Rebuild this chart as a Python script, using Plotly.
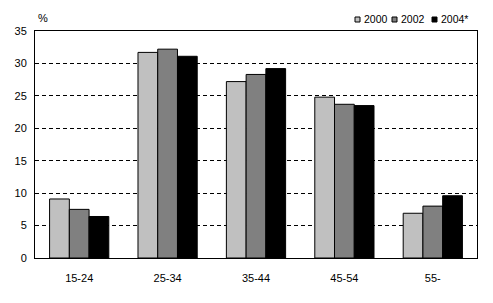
import plotly.graph_objects as go

categories = ["15-24", "25-34", "35-44", "45-54", "55-"]
series_names = ["2000", "2002", "2004*"]
v2000 = [9.1, 31.7, 27.2, 24.8, 6.9]
v2002 = [7.5, 32.2, 28.3, 23.7, 8.0]
v2004 = [6.4, 31.1, 29.2, 23.5, 9.6]
colors = ["#c0c0c0", "#808080", "#000000"]
y_ticks = [0, 5, 10, 15, 20, 25, 30, 35]

W, H = 493, 303
L, R, T, B = 35, 16, 31, 45
PW, PH = W - L - R, H - T - B

def px_x(px):
    return (px - L) / PW

def px_y(py):
    return (H - B - py) / PH

fig = go.Figure()
for name, vals, c in zip(series_names, [v2000, v2002, v2004], colors):
    fig.add_trace(go.Bar(x=categories, y=vals, name=name, showlegend=False,
                         marker=dict(color=c, line=dict(color="black", width=1))))

font = dict(family="Liberation Sans, Arial, sans-serif", size=11, color="black")
lfont = dict(family="Liberation Sans, Arial, sans-serif", size=10.5, color="black")

# manual legend (positions in pixels)
leg_sq_x = [355, 392, 432]
leg_tx_x = [362, 399, 439]
shapes = []
annotations = [dict(text="%", x=px_x(36), xref="paper", xanchor="left", y=px_y(18), yref="paper",
                    yanchor="middle", showarrow=False, font=font)]
for name, c, sx, tx in zip(series_names, colors, leg_sq_x, leg_tx_x):
    shapes.append(dict(type="rect", xref="paper", yref="paper",
                       x0=px_x(sx), x1=px_x(sx + 5), y0=px_y(22), y1=px_y(17),
                       fillcolor=c, line=dict(color="black", width=1)))
    annotations.append(dict(text=name, x=px_x(tx), xref="paper", xanchor="left", y=px_y(19.5),
                            yref="paper", yanchor="middle", showarrow=False, font=lfont))

fig.update_layout(
    width=W, height=H,
    margin=dict(l=L, r=R, t=T, b=B),
    paper_bgcolor="white", plot_bgcolor="white",
    font=font,
    barmode="group", bargap=0.33, bargroupgap=0,
    showlegend=False,
    shapes=shapes,
    annotations=annotations,
)
fig.update_xaxes(showline=True, linecolor="black", linewidth=1, mirror=True, ticks="", ticklen=0,
                 showgrid=False, tickfont=font, ticklabelstandoff=10)
fig.update_yaxes(range=[0, 35], tickvals=y_ticks, showline=True, linecolor="black", linewidth=1, mirror=True,
                 showgrid=True, gridcolor="black", griddash="4px,3px", gridwidth=1, zeroline=False,
                 ticks="", tickfont=font, ticklabelstandoff=5)
fig.write_html("out.html")
